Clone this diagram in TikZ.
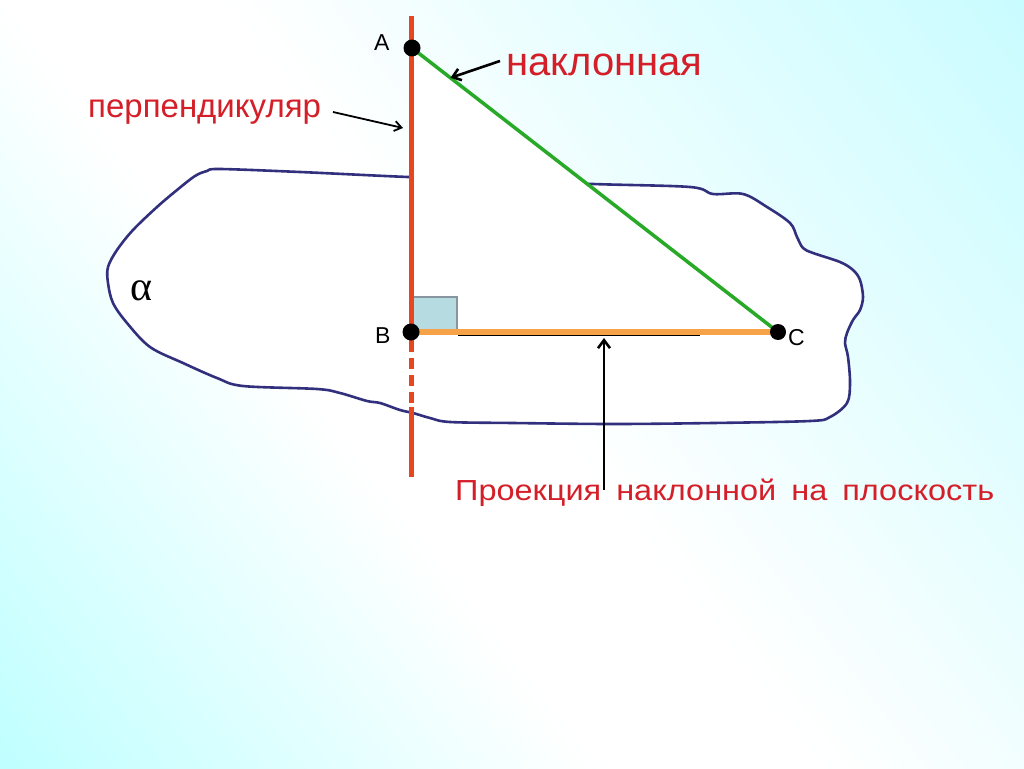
\documentclass[tikz,border=0pt]{standalone}
\usepackage{fontspec}
\setmainfont{Liberation Sans}
\newfontfamily\greekserif{Liberation Serif}
\newfontfamily\projfont[FakeStretch=1.12]{Liberation Sans}
\usetikzlibrary{arrows.meta,calc}
\definecolor{bgcyanA}{RGB}{190,255,255}
\definecolor{bgcyanB}{RGB}{200,252,255}
\definecolor{planeblue}{RGB}{50,48,125}
\definecolor{perpred}{RGB}{232,70,30}
\definecolor{slantgreen}{RGB}{40,170,40}
\definecolor{projorange}{RGB}{245,162,72}
\definecolor{labelred}{RGB}{212,30,40}
\definecolor{sqfill}{RGB}{182,220,226}
\definecolor{sqdraw}{RGB}{135,150,158}
\begin{document}
\begin{tikzpicture}[x=1pt,y=-1pt,
  dot/.style={circle,fill=black,inner sep=0pt,minimum size=17pt},
  ptlabel/.style={font=\fontsize{23}{23}\selectfont,inner sep=0pt,text=black},
  redlabel/.style={text=labelred,inner sep=0pt},
  perpline/.style={draw=perpred,line width=5pt},
  pointer/.style={draw=black,line width=2.6pt,-{Straight Barb[length=8pt,width=12pt]}},
  thinpointer/.style={draw=black,line width=1.8pt,-{Straight Barb[length=7pt,width=10pt]}},
  plane/.style={draw=planeblue,line width=2.6pt,fill=white}]
\useasboundingbox (0,0) rectangle (1024,768);
% background: diagonal gradient cyan - white - light cyan, built from thin stripes
\begin{scope}
  \clip (0,0) rectangle (1024,768);
  \fill[white] (0,0) rectangle (1024,768);
  \begin{scope}[shift={(450pt,-384pt)},rotate=38]
    \fill[bgcyanA] (-900pt,-900pt) rectangle (-599pt,900pt);
    \foreach \u in {-600,-590,...,-130} {
      \pgfmathsetmacro\mixp{(-125-\u)/4.8}
      \fill[bgcyanA!\mixp!white] ({\u*1pt},-900pt) rectangle ({(\u+10.8)*1pt},900pt);
    }
    \foreach \u in {60,70,...,690} {
      \pgfmathsetmacro\mixq{(\u-55)/6.4}
      \fill[bgcyanB!\mixq!white] ({\u*1pt},-900pt) rectangle ({(\u+10.8)*1pt},900pt);
    }
    \fill[bgcyanB] (700pt,-900pt) rectangle (1000pt,900pt);
  \end{scope}
\end{scope}
% key points
\coordinate (pA) at (412,48);
\coordinate (pB) at (411,332);
\coordinate (pC) at (778,332);
\coordinate (perpTop) at (411,16);
\coordinate (dashStart) at (411,341);
\coordinate (dashEnd) at (411,403);
\coordinate (solidStart) at (411,407);
\coordinate (perpBottom) at (411,477);
% plane alpha
\draw[plane] plot[smooth cycle, tension=0.55] coordinates {
 (220,169) (300,172) (408,177) (500,180) (593,184) (690,187) (713,194) (743,194)
 (767,207) (790,223) (797,237) (803,248) (813,253) (840,262) (853,270) (860,280)
 (863,297) (860,310) (853,320) (847,333) (845,343) (848,357) (850,383) (847,403)
 (830,417) (810,421) (713,423) (613,424) (513,423) (450,422) (430,418) (413,413)
 (400,410) (380,403) (367,401) (340,393) (317,389) (243,386) (217,378) (183,363)
 (150,347) (127,323) (113,303) (108,283) (108,267) (117,250) (133,230) (157,207)
 (177,190) (195,176) (207,171)};
% vertical triangle surface
\fill[white] (pA) -- (pB) -- (pC) -- cycle;
% right angle mark
\draw[sqdraw, fill=sqfill, line width=1.8pt] (413,297) rectangle (457,331);
% projection
\coordinate (blkStart) at (458,335.5);
\coordinate (blkEnd) at (700,335.5);
\draw[black, line width=1.2pt] (blkStart) -- (blkEnd);
\draw[projorange, line width=5.5pt] (pB) -- (pC);
% slant
\draw[slantgreen, line width=3.5pt] (pA) -- (pC);
% perpendicular
\draw[perpline] (perpTop) -- (dashStart);
\draw[perpline, dash pattern=on 11pt off 6pt] (dashStart) -- (dashEnd);
\draw[perpline] (solidStart) -- (perpBottom);
% points
\node[dot] (A) at (pA) {};
\node[dot] (B) at (pB) {};
\node[dot,minimum size=16pt] (C) at (pC) {};
\node[ptlabel, anchor=base west] (Alab) at (374,50) {A};
\node[ptlabel, anchor=base west] (Blab) at (375,343) {B};
\node[ptlabel, anchor=base west] (Clab) at (788,345) {C};
\node[inner sep=0pt, anchor=base west, font=\greekserif\fontsize{42}{42}\selectfont] (alpha) at (130,300) {α};
% labels
\node[redlabel, anchor=base west, font=\fontsize{40}{40}\selectfont] (slantlab) at (506,75) {наклонная};
\node[redlabel, anchor=base west, font=\fontsize{33}{33}\selectfont] (perplab) at (88,117) {перпендикуляр};
\node[redlabel, anchor=base west, font=\projfont\fontsize{29}{29}\selectfont] (projlab) at (455,500) {Проекция\hspace{15pt}наклонной\hspace{15pt}на\hspace{15pt}плоскость};
% pointers
\coordinate (slantTip) at ($(pA)!0.105!(pC)$);
\coordinate (slantTail) at (500,61);
\draw[pointer] (slantTail) -- (slantTip);
\coordinate (perpTail) at (333,112);
\coordinate (perpTip) at (403,128);
\draw[thinpointer] (perpTail) -- (perpTip);
\coordinate (projTail) at (604,490);
\coordinate (projTip) at (604,338);
\draw[pointer] (projTail) -- (projTip);
\end{tikzpicture}
\end{document}
